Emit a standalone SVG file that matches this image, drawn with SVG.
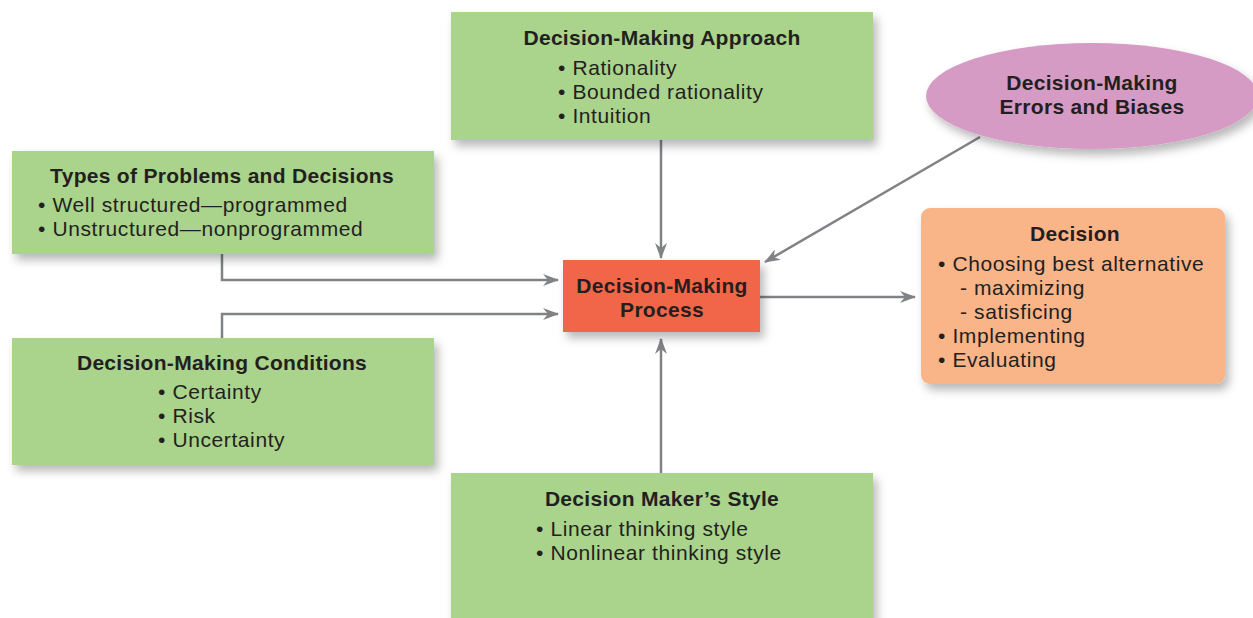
<svg xmlns="http://www.w3.org/2000/svg" width="1253" height="618" viewBox="0 0 1253 618">
<defs>
<filter id="sh" x="-10%" y="-10%" width="125%" height="135%">
<feDropShadow dx="4" dy="6" stdDeviation="5" flood-color="#000" flood-opacity="0.28"/>
</filter>
<marker id="ah" viewBox="0 0 16 12" refX="15" refY="6" markerWidth="16" markerHeight="12" markerUnits="userSpaceOnUse" orient="auto">
<path d="M0,0 L16,6 L0,12 L5,6 Z" fill="#808285"/>
</marker>
</defs>
<style>
text{font-family:"Liberation Sans",Arial,sans-serif;font-size:21px;letter-spacing:0.6px;fill:#231f20}
.t{font-weight:bold;letter-spacing:0.3px}
.c{text-anchor:middle}
.g{fill:#aad38b}
.ln{fill:none;stroke:#808285;stroke-width:2.5}
</style>
<rect width="1253" height="618" fill="#fff"/>
<g id="connectors">
<line class="ln" x1="661" y1="140" x2="661" y2="258" marker-end="url(#ah)"/>
<line class="ln" x1="980" y1="137" x2="765" y2="262" marker-end="url(#ah)"/>
<polyline class="ln" points="222,254 222,280 558,280" marker-end="url(#ah)"/>
<polyline class="ln" points="222,338 222,314 558,314" marker-end="url(#ah)"/>
<line class="ln" x1="661" y1="473" x2="661" y2="339" marker-end="url(#ah)"/>
<line class="ln" x1="760" y1="297" x2="915" y2="297" marker-end="url(#ah)"/>
</g>
<g id="approach">
<rect class="g" x="451" y="12" width="422" height="128" filter="url(#sh)"/>
<text class="t c" x="662" y="45">Decision-Making Approach</text>
<text x="558" y="75">• Rationality</text>
<text x="558" y="99">• Bounded rationality</text>
<text x="558" y="123">• Intuition</text>
</g>
<g id="types">
<rect class="g" x="12" y="151" width="422" height="103" filter="url(#sh)"/>
<text class="t c" x="222" y="183">Types of Problems and Decisions</text>
<text x="38" y="212">• Well structured—programmed</text>
<text x="38" y="236">• Unstructured—nonprogrammed</text>
</g>
<g id="conditions">
<rect class="g" x="12" y="338" width="422" height="127" filter="url(#sh)"/>
<text class="t c" x="222" y="370">Decision-Making Conditions</text>
<text x="158" y="399">• Certainty</text>
<text x="158" y="423">• Risk</text>
<text x="158" y="447">• Uncertainty</text>
</g>
<g id="style">
<rect class="g" x="451" y="473" width="422" height="150" filter="url(#sh)"/>
<text class="t c" x="662" y="506">Decision Maker’s Style</text>
<text x="536" y="536">• Linear thinking style</text>
<text x="536" y="560">• Nonlinear thinking style</text>
</g>
<g id="process">
<rect x="563" y="260" width="197" height="72" fill="#f1664a" filter="url(#sh)"/>
<text class="t c" x="662" y="293">Decision-Making</text>
<text class="t c" x="662" y="317">Process</text>
</g>
<g id="errors">
<ellipse cx="1092" cy="96" rx="166" ry="53" fill="#d59bc4" filter="url(#sh)"/>
<text class="t c" x="1092" y="90">Decision-Making</text>
<text class="t c" x="1092" y="114">Errors and Biases</text>
</g>
<g id="decision">
<rect x="921" y="208" width="304" height="176" rx="9" fill="#f9b488" filter="url(#sh)"/>
<text class="t c" x="1075" y="241">Decision</text>
<text x="938" y="271">• Choosing best alternative</text>
<text x="960" y="295">- maximizing</text>
<text x="960" y="319">- satisficing</text>
<text x="938" y="343">• Implementing</text>
<text x="938" y="367">• Evaluating</text>
</g>
</svg>
